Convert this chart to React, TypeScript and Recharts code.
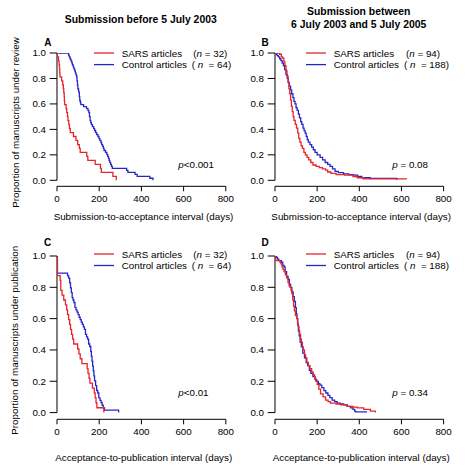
import React from 'react';
import { LineChart, Line, XAxis, YAxis, ReferenceLine } from 'recharts';

const xTicks = [0, 200, 400, 600, 800];
const yTicks = [0, 0.2, 0.4, 0.6, 0.8, 1.0];
const RED = '#E5252A';
const BLUE = '#2626C8';
const FONT = '"Liberation Sans", Arial, Helvetica, sans-serif';

// Panel A: submission-to-acceptance, before 5 July 2003
const aSarsT = [0, 2, 7, 10, 12, 13, 14, 22, 27, 30, 32, 34, 35, 36, 43, 46, 50, 52, 56, 59, 63, 78, 90, 98, 106, 110, 141, 146, 181, 206, 210, 265, 281];
const aSarsS = [1, 0.969, 0.938, 0.906, 0.875, 0.844, 0.813, 0.781, 0.75, 0.719, 0.688, 0.656, 0.625, 0.594, 0.563, 0.531, 0.5, 0.469, 0.438, 0.406, 0.375, 0.344, 0.313, 0.281, 0.25, 0.219, 0.188, 0.156, 0.125, 0.094, 0.063, 0.031, 0];
const aCtrlT = [0, 55, 58, 62, 66, 70, 73, 77, 80, 84, 87, 90, 93, 95, 97, 99, 102, 104, 106, 108, 111, 113, 126, 140, 147, 151, 154, 157, 160, 163, 168, 174, 178, 183, 188, 194, 199, 203, 208, 212, 216, 220, 223, 230, 236, 240, 244, 247, 250, 254, 258, 262, 330, 336, 370, 380, 440, 455];
const aCtrlS = [1, 0.984, 0.969, 0.953, 0.938, 0.922, 0.906, 0.891, 0.875, 0.859, 0.844, 0.828, 0.813, 0.781, 0.75, 0.719, 0.703, 0.688, 0.656, 0.625, 0.609, 0.594, 0.578, 0.563, 0.547, 0.531, 0.5, 0.469, 0.453, 0.438, 0.422, 0.406, 0.391, 0.375, 0.359, 0.344, 0.328, 0.313, 0.297, 0.281, 0.266, 0.25, 0.234, 0.219, 0.203, 0.188, 0.172, 0.156, 0.141, 0.125, 0.109, 0.094, 0.078, 0.063, 0.047, 0.031, 0.016, 0];

// Panel B: submission-to-acceptance, 6 July 2003 - 5 July 2005
const bSarsT = [0, 22, 30, 36, 42, 47, 52, 57, 62, 66, 70, 74, 78, 82, 86, 90, 96, 102, 108, 113, 118, 124, 130, 137, 144, 152, 160, 170, 180, 195, 210, 225, 240, 250, 265, 290, 330, 370, 390, 420, 626];
const bSarsS = [1, 0.99, 0.97, 0.96, 0.93, 0.9, 0.86, 0.82, 0.77, 0.72, 0.68, 0.63, 0.58, 0.54, 0.5, 0.47, 0.44, 0.41, 0.37, 0.33, 0.3, 0.27, 0.25, 0.22, 0.2, 0.18, 0.16, 0.14, 0.12, 0.11, 0.1, 0.09, 0.08, 0.065, 0.055, 0.045, 0.04, 0.03, 0.02, 0.011, 0.011];
const bCtrlT = [0, 5, 10, 16, 22, 28, 34, 40, 46, 52, 58, 63, 68, 74, 79, 85, 90, 95, 100, 105, 111, 116, 122, 127, 133, 138, 143, 148, 153, 158, 166, 174, 182, 190, 200, 214, 226, 238, 250, 261, 273, 285, 300, 325, 350, 372, 392, 412, 452, 578];
const bCtrlS = [1, 0.99, 0.98, 0.97, 0.955, 0.94, 0.92, 0.9, 0.87, 0.83, 0.8, 0.77, 0.74, 0.71, 0.68, 0.65, 0.62, 0.6, 0.57, 0.55, 0.52, 0.49, 0.46, 0.44, 0.41, 0.39, 0.37, 0.345, 0.32, 0.3, 0.28, 0.26, 0.24, 0.22, 0.2, 0.18, 0.16, 0.14, 0.125, 0.11, 0.09, 0.07, 0.06, 0.05, 0.045, 0.04, 0.03, 0.02, 0.015, 0.005];

// Panel C: acceptance-to-publication, before 5 July 2003
const cSarsT = [0, 1, 2, 15, 18, 24, 32, 40, 46, 50, 55, 60, 64, 69, 74, 79, 98, 104, 110, 118, 143, 147, 152, 156, 168, 177, 181, 185, 189, 222];
const cSarsS = [1, 0.938, 0.875, 0.844, 0.781, 0.75, 0.719, 0.688, 0.656, 0.625, 0.594, 0.563, 0.531, 0.5, 0.469, 0.438, 0.406, 0.375, 0.344, 0.313, 0.281, 0.25, 0.219, 0.188, 0.156, 0.125, 0.094, 0.063, 0.031, 0];
const cCtrlT = [0, 2, 50, 55, 60, 64, 68, 72, 76, 80, 85, 90, 95, 100, 105, 110, 115, 120, 125, 130, 135, 140, 145, 150, 155, 160, 163, 166, 169, 172, 175, 178, 183, 188, 193, 198, 204, 209, 214, 219, 225, 292];
const cCtrlS = [1, 0.891, 0.875, 0.859, 0.828, 0.797, 0.766, 0.734, 0.719, 0.703, 0.672, 0.656, 0.641, 0.625, 0.609, 0.594, 0.578, 0.563, 0.547, 0.531, 0.5, 0.484, 0.469, 0.438, 0.422, 0.391, 0.359, 0.328, 0.297, 0.266, 0.234, 0.203, 0.172, 0.141, 0.125, 0.094, 0.078, 0.063, 0.047, 0.031, 0.016, 0];

// Panel D: acceptance-to-publication, 6 July 2003 - 5 July 2005
const dSarsT = [0, 3, 24, 28, 33, 38, 43, 49, 55, 62, 67, 71, 76, 80, 84, 88, 92, 97, 103, 107, 110, 114, 117, 121, 125, 130, 134, 140, 145, 151, 158, 166, 174, 181, 188, 194, 200, 208, 216, 228, 240, 252, 263, 290, 311, 342, 370, 390, 421, 453, 476];
const dSarsS = [1, 0.97, 0.96, 0.95, 0.93, 0.915, 0.9, 0.88, 0.86, 0.83, 0.81, 0.8, 0.78, 0.76, 0.72, 0.68, 0.65, 0.62, 0.6, 0.57, 0.55, 0.52, 0.5, 0.47, 0.45, 0.42, 0.4, 0.37, 0.35, 0.32, 0.3, 0.28, 0.26, 0.24, 0.22, 0.2, 0.18, 0.15, 0.12, 0.1, 0.08, 0.07, 0.06, 0.055, 0.05, 0.04, 0.035, 0.03, 0.02, 0.01, 0];
const dCtrlT = [0, 8, 12, 18, 30, 37, 43, 48, 55, 62, 68, 74, 80, 86, 92, 97, 101, 104, 108, 111, 115, 119, 125, 132, 140, 148, 155, 163, 170, 180, 190, 198, 206, 213, 222, 232, 241, 251, 260, 271, 283, 295, 310, 326, 342, 358, 370, 378, 382, 437];
const dCtrlS = [1, 0.99, 0.98, 0.97, 0.96, 0.94, 0.93, 0.9, 0.87, 0.85, 0.82, 0.8, 0.77, 0.74, 0.71, 0.67, 0.63, 0.6, 0.56, 0.52, 0.49, 0.45, 0.42, 0.38, 0.35, 0.32, 0.3, 0.27, 0.25, 0.23, 0.21, 0.2, 0.185, 0.175, 0.16, 0.14, 0.125, 0.11, 0.095, 0.08, 0.07, 0.06, 0.055, 0.05, 0.04, 0.03, 0.02, 0.01, 0.005, 0.005];

const rows = (t: number[], s: number[]) => t.map((x, i) => ({ t: x, s: s[i] }));

type PanelProps = {
  x0: number; x800: number; y1: number; y0: number; axisY: number;
  sars: { t: number; s: number }[]; ctrl: { t: number; s: number }[];
};

const LEFT = 50, TOP = 20, RIGHT = 10, BOTTOM = 40, YW = 45, XH = 30;

function Panel({ x0, x800, y1, y0, axisY, sars, ctrl }: PanelProps) {
  const g = (axisY - y0) / (y0 - y1);
  const w = (x800 - x0) + LEFT + RIGHT;
  const h = (axisY - y1) + TOP + BOTTOM;
  return (
    <div style={{ position: 'absolute', left: x0 - LEFT, top: y1 - TOP, width: w, height: h }}>
      <LineChart width={w} height={h} margin={{ top: TOP, right: RIGHT, left: LEFT - YW, bottom: BOTTOM - XH }}>
        <XAxis
          type="number" dataKey="t" domain={[0, 800]} ticks={xTicks} allowDataOverflow
          height={XH} tickSize={5} tickMargin={3.8}
          axisLine={{ stroke: '#000', strokeWidth: 1 }} tickLine={{ stroke: '#000', strokeWidth: 1 }}
          tick={{ fill: '#000', fontSize: 9.8, fontFamily: FONT }}
        />
        <YAxis
          type="number" domain={[-g, 1]} ticks={yTicks} allowDataOverflow width={YW}
          tickSize={7.3} tickMargin={3.7} axisLine={false}
          tickFormatter={(v: number) => v.toFixed(1)}
          tickLine={{ stroke: '#000', strokeWidth: 1 }}
          tick={{ fill: '#000', fontSize: 9.8, fontFamily: FONT }}
        />
        <ReferenceLine segment={[{ x: 0, y: 0 }, { x: 0, y: 1 }]} stroke="#000" strokeWidth={1} />
        <Line data={ctrl} dataKey="s" type="stepAfter" stroke={BLUE} strokeWidth={1.3} dot={false} isAnimationActive={false} />
        <Line data={sars} dataKey="s" type="stepAfter" stroke={RED} strokeWidth={1.3} dot={false} isAnimationActive={false} />
      </LineChart>
    </div>
  );
}

const txt = { fontFamily: FONT, fill: '#000' } as const;

function Legend({ lx, ly1, ly2, nx1, nx2, n1, n2 }: { lx: number; ly1: number; ly2: number; nx1: number; nx2: number; n1: string; n2: string }) {
  return (
    <g>
      <line x1={lx} x2={lx + 20} y1={ly1} y2={ly1} stroke={RED} strokeWidth={1.3} />
      <line x1={lx} x2={lx + 20} y1={ly2} y2={ly2} stroke={BLUE} strokeWidth={1.3} />
      <text x={lx + 27.7} y={ly1 + 3.5} fontSize={9.8} style={txt}>SARS articles</text>
      <text x={lx + 27.7} y={ly2 + 3.5} fontSize={9.8} style={txt}>Control articles</text>
      <text x={nx1} y={ly1 + 3.5} fontSize={9.8} style={{ ...txt, whiteSpace: 'pre' }}>(<tspan fontStyle="italic">n</tspan>{' = ' + n1 + ')'}</text>
      <text x={nx2} y={ly2 + 3.5} fontSize={9.8} style={{ ...txt, whiteSpace: 'pre' }}>{'( '}<tspan fontStyle="italic">n</tspan>{'  = ' + n2 + ')'}</text>
    </g>
  );
}

function PVal({ x, y, rest }: { x: number; y: number; rest: string }) {
  return (
    <text x={x} y={y} fontSize={9.8} style={{ ...txt, whiteSpace: 'pre' }}>
      <tspan fontStyle="italic">p</tspan>{rest}
    </text>
  );
}

export default function App() {
  return (
    <div style={{ position: 'absolute', left: 0, top: 0, width: 467, height: 467, background: '#fff', overflow: 'hidden' }}>
      <Panel x0={56.7} x800={225.5} y1={52.7} y0={180} axisY={186} sars={rows(aSarsT, aSarsS)} ctrl={rows(aCtrlT, aCtrlS)} />
      <Panel x0={274.7} x800={443.3} y1={52.7} y0={180} axisY={186} sars={rows(bSarsT, bSarsS)} ctrl={rows(bCtrlT, bCtrlS)} />
      <Panel x0={56.7} x800={225.5} y1={255.7} y0={412.3} axisY={419} sars={rows(cSarsT, cSarsS)} ctrl={rows(cCtrlT, cCtrlS)} />
      <Panel x0={274.7} x800={443.3} y1={255.7} y0={412.3} axisY={419} sars={rows(dSarsT, dSarsS)} ctrl={rows(dCtrlT, dCtrlS)} />
      <svg width={467} height={467} style={{ position: 'absolute', left: 0, top: 0, pointerEvents: 'none' }}>
        <text x={140.8} y={23} fontSize={10.4} fontWeight="bold" textAnchor="middle" style={txt}>Submission before 5 July 2003</text>
        <text x={358.7} y={15.4} fontSize={10.4} fontWeight="bold" textAnchor="middle" style={txt}>Submission between</text>
        <text x={358.7} y={28} fontSize={10.4} fontWeight="bold" textAnchor="middle" style={txt}>6 July 2003 and 5 July 2005</text>

        <text x={47.8} y={46.3} fontSize={10} fontWeight="bold" textAnchor="middle" style={txt}>A</text>
        <text x={265} y={46.3} fontSize={10} fontWeight="bold" textAnchor="middle" style={txt}>B</text>
        <text x={47.5} y={246.3} fontSize={10} fontWeight="bold" textAnchor="middle" style={txt}>C</text>
        <text x={265} y={246.3} fontSize={10} fontWeight="bold" textAnchor="middle" style={txt}>D</text>

        <Legend lx={94} ly1={53} ly2={64.6} nx1={193.3} nx2={191.7} n1="32" n2="64" />
        <Legend lx={306} ly1={53} ly2={64.6} nx1={406} nx2={404} n1="94" n2="188" />
        <Legend lx={94} ly1={254} ly2={265.5} nx1={193.3} nx2={191.7} n1="32" n2="64" />
        <Legend lx={306} ly1={254} ly2={265.5} nx1={406} nx2={404} n1="94" n2="188" />

        <PVal x={178.3} y={167.5} rest="<0.001" />
        <PVal x={392.3} y={167.5} rest=" = 0.08" />
        <PVal x={178.3} y={395.8} rest="<0.01" />
        <PVal x={392.3} y={395.8} rest=" = 0.34" />

        <text x={143.5} y={219.5} fontSize={9.8} textAnchor="middle" style={txt}>Submission-to-acceptance interval (days)</text>
        <text x={361.2} y={219.5} fontSize={9.8} textAnchor="middle" style={txt}>Submission-to-acceptance interval (days)</text>
        <text x={143.7} y={461.2} fontSize={9.8} textAnchor="middle" style={txt}>Acceptance-to-publication interval (days)</text>
        <text x={361.2} y={461.2} fontSize={9.8} textAnchor="middle" style={txt}>Acceptance-to-publication interval (days)</text>

        <text x={18.5} y={122.5} fontSize={9.8} textAnchor="middle" transform="rotate(-90 18.5 122.5)" style={txt}>Proportion of manuscripts under review</text>
        <text x={18.5} y={340.3} fontSize={9.8} textAnchor="middle" transform="rotate(-90 18.5 340.3)" style={txt}>Proportion of manuscripts under publication</text>
      </svg>
    </div>
  );
}
